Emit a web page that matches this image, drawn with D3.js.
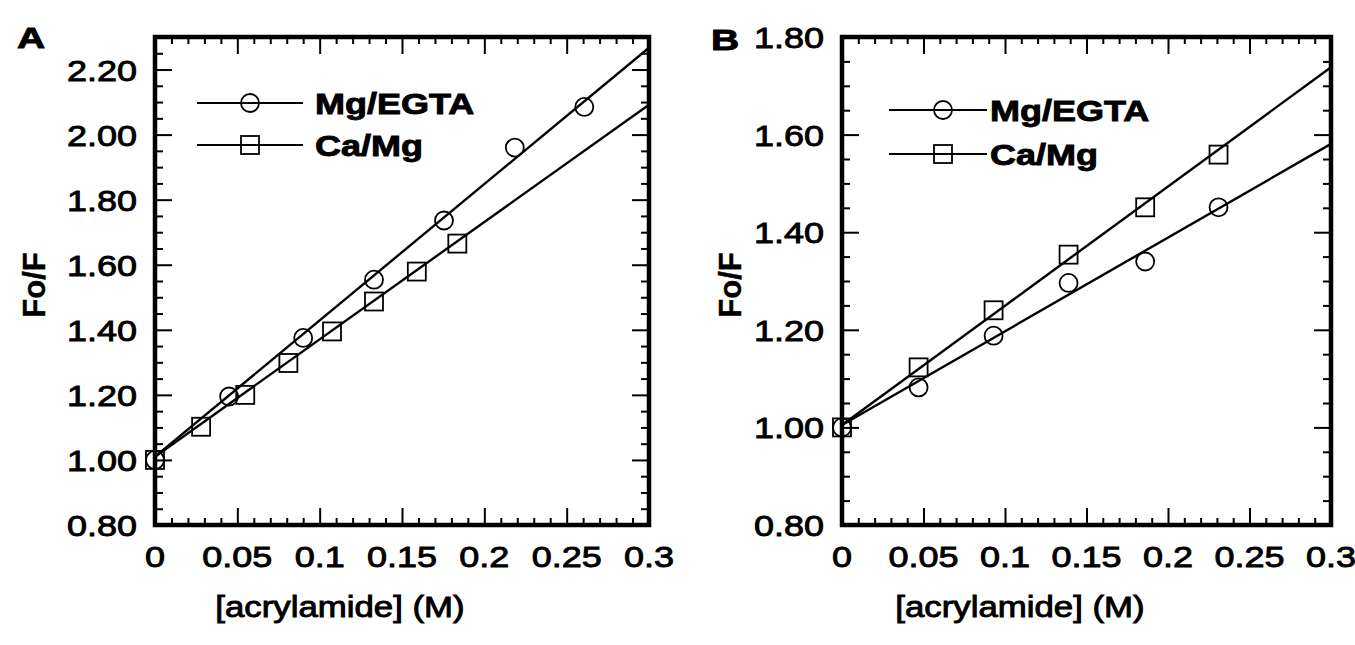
<!DOCTYPE html>
<html>
<head>
<meta charset="utf-8">
<script src="https://cdn.jsdelivr.net/npm/d3@7/dist/d3.min.js"></script>
<style>
  html, body { margin: 0; padding: 0; background: #fff; }
  svg { display: block; }
  text { font-family: "Liberation Sans", Arial, Helvetica, sans-serif; fill: #000; }
</style>
</head>
<body>
<svg id="fig" width="1355" height="645"></svg>
<script>
// Acrylamide quenching of fluorescence (Stern–Volmer plots), two conditions.
const seriesNames = ["Mg/EGTA", "Ca/Mg"];
const xTitle = "[acrylamide] (M)";
const yTitle = "Fo/F";
const xTickValues = [0, 0.05, 0.1, 0.15, 0.2, 0.25, 0.3];
const xTickLabels = ["0", "0.05", "0.1", "0.15", "0.2", "0.25", "0.3"];

// Panel A
const aYTickValues = [0.8, 1.0, 1.2, 1.4, 1.6, 1.8, 2.0, 2.2];
const aYTickLabels = ["0.80", "1.00", "1.20", "1.40", "1.60", "1.80", "2.00", "2.20"];
const aMgX = [0, 0.045, 0.090, 0.133, 0.1755, 0.2185, 0.2607];
const aMgY = [1.00, 1.195, 1.375, 1.554, 1.736, 1.960, 2.085];
const aCaX = [0, 0.028, 0.0548, 0.081, 0.1075, 0.133, 0.159, 0.1836];
const aCaY = [1.00, 1.102, 1.200, 1.298, 1.395, 1.487, 1.579, 1.665];
const aMgFitX = [0, 0.3];
const aMgFitY = [1.01, 2.267];
const aCaFitX = [0, 0.3];
const aCaFitY = [1.01, 2.092];

// Panel B
const bYTickValues = [0.8, 1.0, 1.2, 1.4, 1.6, 1.8];
const bYTickLabels = ["0.80", "1.00", "1.20", "1.40", "1.60", "1.80"];
const bMgX = [0, 0.047, 0.093, 0.139, 0.186, 0.231];
const bMgY = [1.00, 1.082, 1.188, 1.296, 1.340, 1.451];
const bCaX = [0, 0.047, 0.093, 0.139, 0.186, 0.231];
const bCaY = [1.00, 1.123, 1.240, 1.354, 1.451, 1.559];
const bMgFitX = [0, 0.3];
const bMgFitY = [1.005, 1.581];
const bCaFitX = [0, 0.3];
const bCaFitY = [1.005, 1.738];

const zip = (xs, ys) => xs.map((x, i) => [x, ys[i]]);

const panels = [
  {
    letter: "A", left: 155, right: 649, top: 37, bottom: 525,
    yDomain: [0.8, 2.3], yTicks: aYTickValues, yLabels: aYTickLabels,
    mg: zip(aMgX, aMgY), ca: zip(aCaX, aCaY),
    mgFit: zip(aMgFitX, aMgFitY), caFit: zip(aCaFitX, aCaFitY),
    letterPos: [17, 48], yTitleX: 45, xTitleX: 340,
    legend: { x1: 197, x2: 303, xm: 250, textX: 315, rows: [103, 145] }
  },
  {
    letter: "B", left: 842, right: 1331, top: 37, bottom: 525,
    yDomain: [0.8, 1.8], yTicks: bYTickValues, yLabels: bYTickLabels,
    mg: zip(bMgX, bMgY), ca: zip(bCaX, bCaY),
    mgFit: zip(bMgFitX, bMgFitY), caFit: zip(bCaFitX, bCaFitY),
    letterPos: [711, 50], yTitleX: 741, xTitleX: 1020,
    legend: { x1: 889, x2: 987, xm: 943, textX: 990, rows: [110, 154] }
  }
];

const svg = d3.select("#fig");
svg.append("rect").attr("width", 1355).attr("height", 645).attr("fill", "#fff");

const SX = 1.2; // horizontal text widening
const R = 9;    // marker half-size
const TEXT_STROKE = 0.9;

function label(g, x, y, txt, size, anchor, weight, sx) {
  return g.append("text")
    .attr("transform", `translate(${x},${y}) scale(${sx == null ? SX : sx},1)`)
    .attr("text-anchor", anchor)
    .style("font-size", size + "px")
    .style("font-weight", weight || "normal")
    .attr("stroke", "#000").attr("stroke-width", TEXT_STROKE)
    .text(txt);
}

function tickSet(g, axisFn, scale, values, size) {
  g.call(axisFn(scale).tickValues(values).tickSize(-size).tickFormat(""));
  g.select(".domain").remove();
  g.selectAll(".tick line").attr("stroke", "#000").attr("stroke-width", 2);
}

function circleMark(g, cx, cy) {
  g.append("circle").attr("cx", cx).attr("cy", cy).attr("r", R)
    .attr("fill", "none").attr("stroke", "#000").attr("stroke-width", 1.8);
}
function squareMark(g, cx, cy) {
  g.append("rect").attr("x", cx - R).attr("y", cy - R)
    .attr("width", 2 * R).attr("height", 2 * R)
    .attr("fill", "none").attr("stroke", "#000").attr("stroke-width", 1.8);
}

const xMinor = d3.range(0, 31).map(i => +(i / 100).toFixed(2))
  .filter(v => !xTickValues.some(t => Math.abs(t - v) < 1e-9));

panels.forEach(p => {
  const g = svg.append("g");
  const x = d3.scaleLinear().domain([0, 0.3]).range([p.left, p.right]);
  const y = d3.scaleLinear().domain(p.yDomain).range([p.bottom, p.top]);

  const yAllMinor = d3.range(Math.round(p.yDomain[0] * 100), Math.round(p.yDomain[1] * 100) + 1, 5)
    .map(v => v / 100)
    .filter(v => !p.yTicks.some(t => Math.abs(t - v) < 1e-9));

  // ticks on all four sides, pointing inward
  const W = p.right - p.left, H = p.bottom - p.top;
  tickSet(g.append("g").attr("transform", `translate(0,${p.bottom})`), d3.axisBottom, x, xTickValues, 17);
  tickSet(g.append("g").attr("transform", `translate(0,${p.bottom})`), d3.axisBottom, x, xMinor, 7);
  tickSet(g.append("g").attr("transform", `translate(0,${p.top})`), d3.axisTop, x, xTickValues, 17);
  tickSet(g.append("g").attr("transform", `translate(0,${p.top})`), d3.axisTop, x, xMinor, 7);
  tickSet(g.append("g").attr("transform", `translate(${p.left},0)`), d3.axisLeft, y, p.yTicks, 17);
  tickSet(g.append("g").attr("transform", `translate(${p.left},0)`), d3.axisLeft, y, yAllMinor, 8);
  tickSet(g.append("g").attr("transform", `translate(${p.right},0)`), d3.axisRight, y, p.yTicks, 17);
  tickSet(g.append("g").attr("transform", `translate(${p.right},0)`), d3.axisRight, y, yAllMinor, 8);

  // fitted lines
  const line = d3.line().x(d => x(d[0])).y(d => y(d[1]));
  [p.mgFit, p.caFit].forEach(fit => {
    g.append("path").attr("d", line(fit))
      .attr("fill", "none").attr("stroke", "#000").attr("stroke-width", 2.4);
  });

  // data markers
  p.ca.forEach(d => squareMark(g, x(d[0]), y(d[1])));
  p.mg.forEach(d => circleMark(g, x(d[0]), y(d[1])));

  // frame
  g.append("rect").attr("x", p.left).attr("y", p.top).attr("width", W).attr("height", H)
    .attr("fill", "none").attr("stroke", "#000").attr("stroke-width", 4.5);

  // tick labels
  p.yTicks.forEach((v, i) => label(g, p.left - 18, y(v) + 11, p.yLabels[i], 30, "end"));
  xTickValues.forEach((v, i) => label(g, x(v), 567, xTickLabels[i], 30, "middle"));

  // axis titles
  label(g, p.xTitleX, 617, xTitle, 29, "middle");
  g.append("text")
    .attr("transform", `translate(${p.yTitleX},${(p.top + p.bottom) / 2 + 4}) rotate(-90)`)
    .attr("text-anchor", "middle")
    .style("font-size", "31px")
    .style("font-weight", "bold")
    .attr("stroke", "#000").attr("stroke-width", 0.4)
    .text(yTitle);

  // panel letter
  label(g, p.letterPos[0], p.letterPos[1], p.letter, 30, "start", "bold", 1.3);

  // legend
  const L = p.legend;
  L.rows.forEach((ry, i) => {
    g.append("line").attr("x1", L.x1).attr("x2", L.x2).attr("y1", ry).attr("y2", ry)
      .attr("stroke", "#000").attr("stroke-width", 2);
    if (i === 0) circleMark(g, L.xm, ry); else squareMark(g, L.xm, ry);
    label(g, L.textX, ry + 10.5, seriesNames[i], 30, "start", "bold", 1.2);
  });
});
</script>
</body>
</html>
